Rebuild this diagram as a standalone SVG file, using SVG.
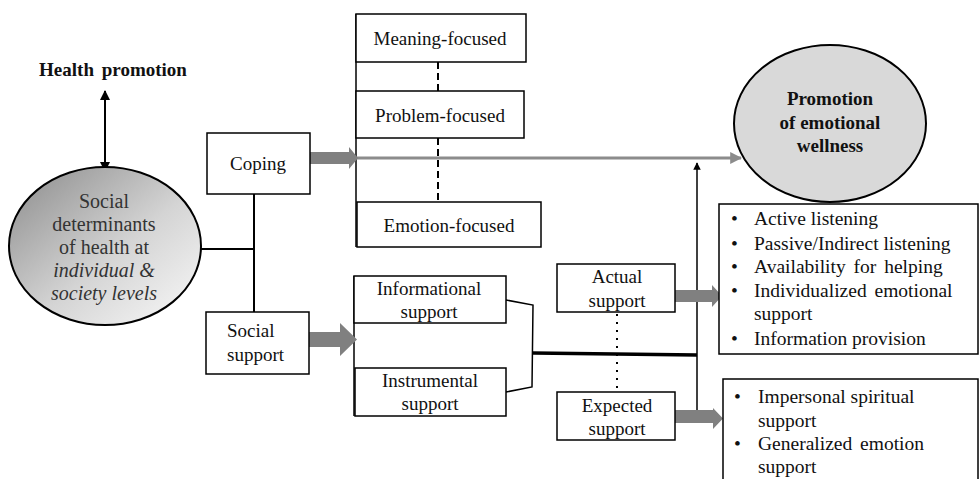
<svg xmlns="http://www.w3.org/2000/svg" width="980" height="479" viewBox="0 0 980 479">
<defs>
<style>
.t{font-family:"Liberation Serif","Times New Roman",serif;font-size:19px;fill:#111;}
.c{text-anchor:middle;}
.b{font-weight:bold;}
.l{font-size:19.5px;}
.e{font-size:20px;fill:#333;}
.box{fill:#fff;stroke:#000;stroke-width:1.5;}
.ln{stroke:#000;stroke-width:2;fill:none;}
.ga{fill:#808080;}
</style>
<linearGradient id="g1" x1="0" y1="0" x2="1" y2="1">
<stop offset="0" stop-color="#8a8a8a"/>
<stop offset="0.55" stop-color="#d4d4d4"/>
<stop offset="1" stop-color="#fafafa"/>
</linearGradient>
<marker id="ah" viewBox="0 0 10 10" refX="9" refY="5" markerWidth="5" markerHeight="5" orient="auto-start-reverse">
<path d="M0,0 L10,5 L0,10 z" fill="#000"/>
</marker>
<marker id="gh" viewBox="0 0 10 10" refX="9" refY="5" markerWidth="4" markerHeight="4" orient="auto">
<path d="M0,0 L10,5 L0,10 z" fill="#8c8c8c"/>
</marker>
</defs>

<g id="connectors">
<line x1="105" y1="91" x2="105" y2="171" class="ln" marker-start="url(#ah)" marker-end="url(#ah)"/>
<line x1="200" y1="249" x2="254" y2="249" class="ln"/>
<line x1="254" y1="194" x2="254" y2="312" class="ln"/>
<line x1="356" y1="14" x2="356" y2="247" stroke="#000" stroke-width="1.5"/>
<line x1="438" y1="62" x2="438" y2="91" stroke="#000" stroke-width="2" stroke-dasharray="7,4"/>
<line x1="438" y1="138" x2="438" y2="202" stroke="#000" stroke-width="2" stroke-dasharray="7,4"/>
<line x1="357" y1="158" x2="741" y2="158" stroke="#8c8c8c" stroke-width="3" marker-end="url(#gh)"/>
<line x1="697" y1="417" x2="697" y2="163" stroke="#000" stroke-width="1.5" marker-end="url(#ah)"/>
<line x1="354" y1="276" x2="354" y2="416" stroke="#000" stroke-width="1.5"/>
<polyline points="506,300 533,305 532,387 506,392" stroke="#000" stroke-width="1.5" fill="none"/>
<line x1="533" y1="353" x2="697" y2="355" stroke="#000" stroke-width="3.5"/>
<line x1="617" y1="314" x2="617" y2="392" stroke="#000" stroke-width="2" stroke-dasharray="2,6"/>
<polygon class="ga" points="310,152 349,152 349,147 358,158 349,169 349,164 310,164"/>
<polygon class="ga" points="309,332 340,332 340,323 357,339.5 340,356 340,347 309,347"/>
<polygon class="ga" points="675,290 712,290 712,285 722,296 712,307 712,302 675,302"/>
<polygon class="ga" points="675,410 713,410 713,408 723,418.5 713,429 713,423 675,423"/>
</g>

<g id="health-promotion">
<text class="t c b" x="113" y="76" word-spacing="3">Health promotion</text>
</g>

<g id="social-determinants">
<ellipse cx="105" cy="246" rx="96" ry="79" fill="url(#g1)" stroke="#000" stroke-width="2"/>
<text class="t c e" x="104" y="208">Social</text>
<text class="t c e" x="104" y="231">determinants</text>
<text class="t c e" x="104" y="254">of health at</text>
<text class="t c e" x="104" y="277" font-style="italic">individual &amp;</text>
<text class="t c e" x="104" y="300" font-style="italic">society levels</text>
</g>

<g id="coping">
<rect class="box" x="207" y="133" width="103" height="61"/>
<text class="t c" x="258" y="170">Coping</text>
</g>

<g id="social-support">
<rect class="box" x="206" y="312" width="103" height="62"/>
<text class="t" x="227" y="337">Social</text>
<text class="t" x="227" y="361">support</text>
</g>

<g id="meaning-focused">
<rect class="box" x="356" y="14" width="170" height="48"/>
<text class="t c" x="440" y="45">Meaning-focused</text>
</g>

<g id="problem-focused">
<rect class="box" x="356" y="91" width="168" height="47"/>
<text class="t c" x="440" y="122">Problem-focused</text>
</g>

<g id="emotion-focused">
<rect class="box" x="357" y="202" width="184" height="45"/>
<text class="t c" x="449" y="232">Emotion-focused</text>
</g>

<g id="informational-support">
<rect class="box" x="354" y="276" width="152" height="47"/>
<text class="t c" x="429" y="295">Informational</text>
<text class="t c" x="429" y="318">support</text>
</g>

<g id="instrumental-support">
<rect class="box" x="355" y="368" width="151" height="48"/>
<text class="t c" x="430" y="387">Instrumental</text>
<text class="t c" x="430" y="410">support</text>
</g>

<g id="actual-support">
<rect class="box" x="557" y="264" width="118" height="48"/>
<text class="t c" x="617" y="283">Actual</text>
<text class="t c" x="617" y="307">support</text>
</g>

<g id="expected-support">
<rect class="box" x="557" y="392" width="118" height="48"/>
<text class="t c" x="617" y="412">Expected</text>
<text class="t c" x="617" y="435">support</text>
</g>

<g id="promotion-emotional-wellness">
<ellipse cx="830" cy="123.5" rx="96" ry="78.5" fill="#d9d9d9" stroke="#000" stroke-width="2"/>
<text class="t c b" x="830" y="105">Promotion</text>
<text class="t c b" x="830" y="129">of emotional</text>
<text class="t c b" x="830" y="152">wellness</text>
</g>

<g id="actual-list">
<rect class="box" x="719" y="204" width="259" height="150"/>
<text class="t l" x="731" y="225">•</text><text class="t l" x="754" y="225">Active listening</text>
<text class="t l" x="731" y="250">•</text><text class="t l" x="754" y="250">Passive/Indirect listening</text>
<text class="t l" x="731" y="273">•</text><text class="t l" x="754" y="273" word-spacing="3">Availability for helping</text>
<text class="t l" x="731" y="297">•</text><text class="t l" x="754" y="297" word-spacing="3">Individualized emotional</text>
<text class="t l" x="754" y="320">support</text>
<text class="t l" x="731" y="345">•</text><text class="t l" x="754" y="345">Information provision</text>
</g>

<g id="expected-list">
<rect class="box" x="723" y="379" width="255" height="110"/>
<text class="t l" x="734" y="403">•</text><text class="t l" x="758" y="403">Impersonal spiritual</text>
<text class="t l" x="758" y="427">support</text>
<text class="t l" x="734" y="450">•</text><text class="t l" x="758" y="450" word-spacing="3">Generalized emotion</text>
<text class="t l" x="758" y="473">support</text>
</g>
</svg>
